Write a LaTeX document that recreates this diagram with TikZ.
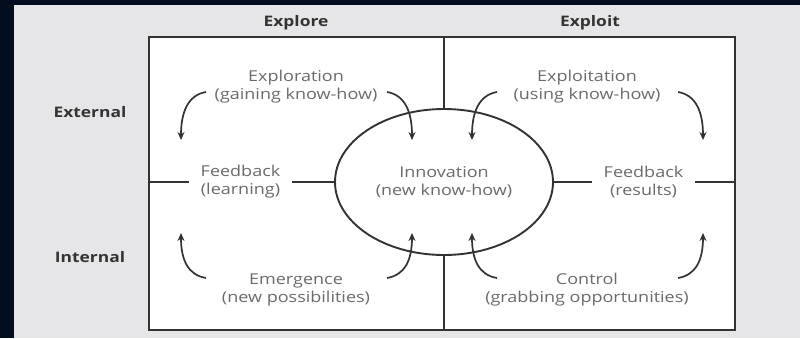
\documentclass[tikz,border=0pt]{standalone}
\usepackage{fontspec}
\setmainfont{Open Sans}[FakeStretch=1.2]
\usetikzlibrary{shapes.geometric,arrows.meta}
\definecolor{navy}{HTML}{020D1E}
\definecolor{bggray}{HTML}{E6E6E8}
\definecolor{linegray}{HTML}{333333}
\definecolor{textgray}{HTML}{6A6A6A}
\definecolor{headgray}{HTML}{333333}
\tikzset{
  lbl/.style={align=center, text=textgray, font=\fontsize{15}{18}\selectfont, inner sep=0pt},
  head/.style={text=headgray, font=\bfseries\fontsize{14.5}{17}\selectfont, inner sep=0pt},
  frame/.style={draw=linegray, line width=2pt},
  divline/.style={draw=linegray, line width=1.9pt},
  curvarrow/.style={draw=linegray, line width=1.7pt, -{Stealth[length=8pt,width=7pt]}}
}
\begin{document}
\begin{tikzpicture}[x=1pt,y=-1pt]
\useasboundingbox (0,0) rectangle (800,338);
\fill[navy] (0,0) rectangle (800,338);
\fill[bggray] (14,5) rectangle (800,338);
% box
\coordinate (tl) at (149,37);
\coordinate (br) at (735,330);
\fill[white] (tl) rectangle (br);
\draw[frame] (tl) rectangle (br);
% headers
\node[head] (explore) at (296,23) {Explore};
\node[head] (exploit) at (590,23) {Exploit};
\node[head] (external) at (90,112) {External};
\node[head] (internal) at (90,257) {Internal};
% ellipse
\node[ellipse, draw=linegray, line width=1.9pt, minimum width=218pt, minimum height=146pt, inner sep=0pt] (innov) at (444,182) {};
\node[lbl] (innovtxt) at (444,182) {Innovation\\(new know-how)};
% dividers
\coordinate (vtop) at (444,37);
\coordinate (vbot) at (444,330);
\coordinate (hleft) at (149,182);
\coordinate (hright) at (735,182);
\node[lbl, minimum width=103pt, minimum height=36pt] (fbL) at (240.5,182) {Feedback\\(learning)};
\node[lbl, minimum width=103pt, minimum height=36pt] (fbR) at (643.5,182) {Feedback\\(results)};
\draw[divline] (vtop) -- (innov.north);
\draw[divline] (innov.south) -- (vbot);
\draw[divline] (hleft) -- (fbL.west);
\draw[divline] (fbL.east) -- (innov.west);
\draw[divline] (innov.east) -- (fbR.west);
\draw[divline] (fbR.east) -- (hright);
% quadrant labels
\node[lbl] (exploration) at (296,87) {Exploration\\(gaining know-how)};
\node[lbl] (exploitation) at (587,87) {Exploitation\\(using know-how)};
\node[lbl] (emergence) at (296,290) {Emergence\\(new possibilities)};
\node[lbl] (control) at (587,290) {Control\\(grabbing opportunities)};
% arrow end points
\coordinate (a1s) at (206,92);  \coordinate (a1e) at (181,140);
\coordinate (a2s) at (387,92);  \coordinate (a2e) at (412,140);
\coordinate (a3s) at (497,92);  \coordinate (a3e) at (472,140);
\coordinate (a4s) at (678,92);  \coordinate (a4e) at (703,140);
\coordinate (b1s) at (206,278); \coordinate (b1e) at (181,233);
\coordinate (b2s) at (387,278); \coordinate (b2e) at (412,233);
\coordinate (b3s) at (497,278); \coordinate (b3e) at (472,233);
\coordinate (b4s) at (678,278); \coordinate (b4e) at (703,233);
\draw[curvarrow] (a1s) .. controls (188,95) and (181,112) .. (a1e);
\draw[curvarrow] (a2s) .. controls (405,95) and (412,112) .. (a2e);
\draw[curvarrow] (a3s) .. controls (479,95) and (472,112) .. (a3e);
\draw[curvarrow] (a4s) .. controls (696,95) and (703,112) .. (a4e);
\draw[curvarrow] (b1s) .. controls (188,275) and (181,260) .. (b1e);
\draw[curvarrow] (b2s) .. controls (405,275) and (412,260) .. (b2e);
\draw[curvarrow] (b3s) .. controls (479,275) and (472,260) .. (b3e);
\draw[curvarrow] (b4s) .. controls (696,275) and (703,260) .. (b4e);
\end{tikzpicture}
\end{document}
